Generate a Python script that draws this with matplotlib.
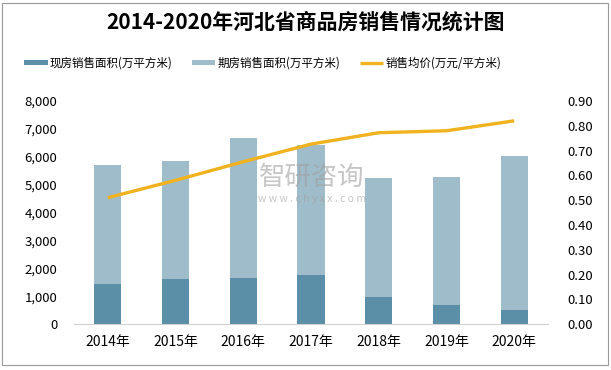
import numpy as np
import matplotlib.pyplot as plt
from matplotlib.patches import Rectangle

plt.rcParams['font.family'] = ['Noto Sans CJK SC', 'DejaVu Sans']

# data
years = ['2014年', '2015年', '2016年', '2017年', '2018年', '2019年', '2020年']
spot_area = [1435, 1613, 1650, 1756, 968, 681, 502]       # 现房销售面积
total_area = [5693, 5845, 6670, 6415, 5233, 5269, 6022]
forward_area = [t - s for t, s in zip(total_area, spot_area)]  # 期房销售面积
avg_price = [0.51, 0.58, 0.655, 0.726, 0.772, 0.78, 0.82]  # 销售均价

dark = '#5b8fa8'
light = '#9fbccb'
gold = '#f0b21f'

fig = plt.figure(figsize=(6.11, 3.70), dpi=100)
ax = fig.add_axes([0.121, 0.124, 0.776, 0.603])
x = np.arange(len(years))

ax.bar(x, spot_area, width=0.4, color=dark, label='现房销售面积(万平方米)')
ax.bar(x, forward_area, width=0.4, bottom=spot_area, color=light, label='期房销售面积(万平方米)')
ax.set_ylim(0, 8000)
ax.set_xlim(-0.5, len(years) - 0.5)
ax.set_yticks(np.arange(0, 8001, 1000))
ax.set_yticklabels([f'{v:,}' for v in range(0, 8001, 1000)])
ax.set_xticks(x)
ax.set_xticklabels(years)

ax2 = ax.twinx()
ax2.plot(x, avg_price, color=gold, lw=2.4, label='销售均价(万元/平方米)', solid_capstyle='butt')
ax2.set_ylim(0, 0.9)
ax2.set_yticks(np.arange(0, 0.91, 0.1))
ax2.set_yticklabels([f'{v:.2f}' for v in np.arange(0, 0.91, 0.1)])

for a in (ax, ax2):
    for s in a.spines.values():
        s.set_visible(False)
    a.tick_params(length=0, labelsize=9.5, colors='#000000')
ax.spines['bottom'].set_visible(True)
ax.spines['bottom'].set_color('#d0d0d0')
ax.tick_params(axis='x', pad=8, labelsize=10)
ax.tick_params(axis='y', pad=12)
ax2.tick_params(axis='y', pad=14)

# watermark
fig.text(0.51, 0.52, '智研咨询', fontsize=19, color='#a0a0a0', alpha=0.6, ha='center', va='center')
fig.text(0.51, 0.462, 'w w w . c h y x x . c o m', fontsize=7.5, color='#a0a0a0', alpha=0.6, ha='center', va='center')

fig.text(0.5, 0.94, '2014-2020年河北省商品房销售情况统计图', fontsize=15, fontweight='bold',
         ha='center', va='center')

h1, l1 = ax.get_legend_handles_labels()
h2, l2 = ax2.get_legend_handles_labels()
fig.legend(h1 + h2, l1 + l2, loc='center', bbox_to_anchor=(0.43, 0.83), ncol=3, frameon=False,
           fontsize=8.3, handlelength=2.0, handleheight=0.35, columnspacing=1.7, handletextpad=0.2)

fig.add_artist(Rectangle((0.004, 0.013), 0.991, 0.98, transform=fig.transFigure,
                         fill=False, edgecolor='#999999', lw=0.8))

fig.savefig('out.png', dpi=100)
